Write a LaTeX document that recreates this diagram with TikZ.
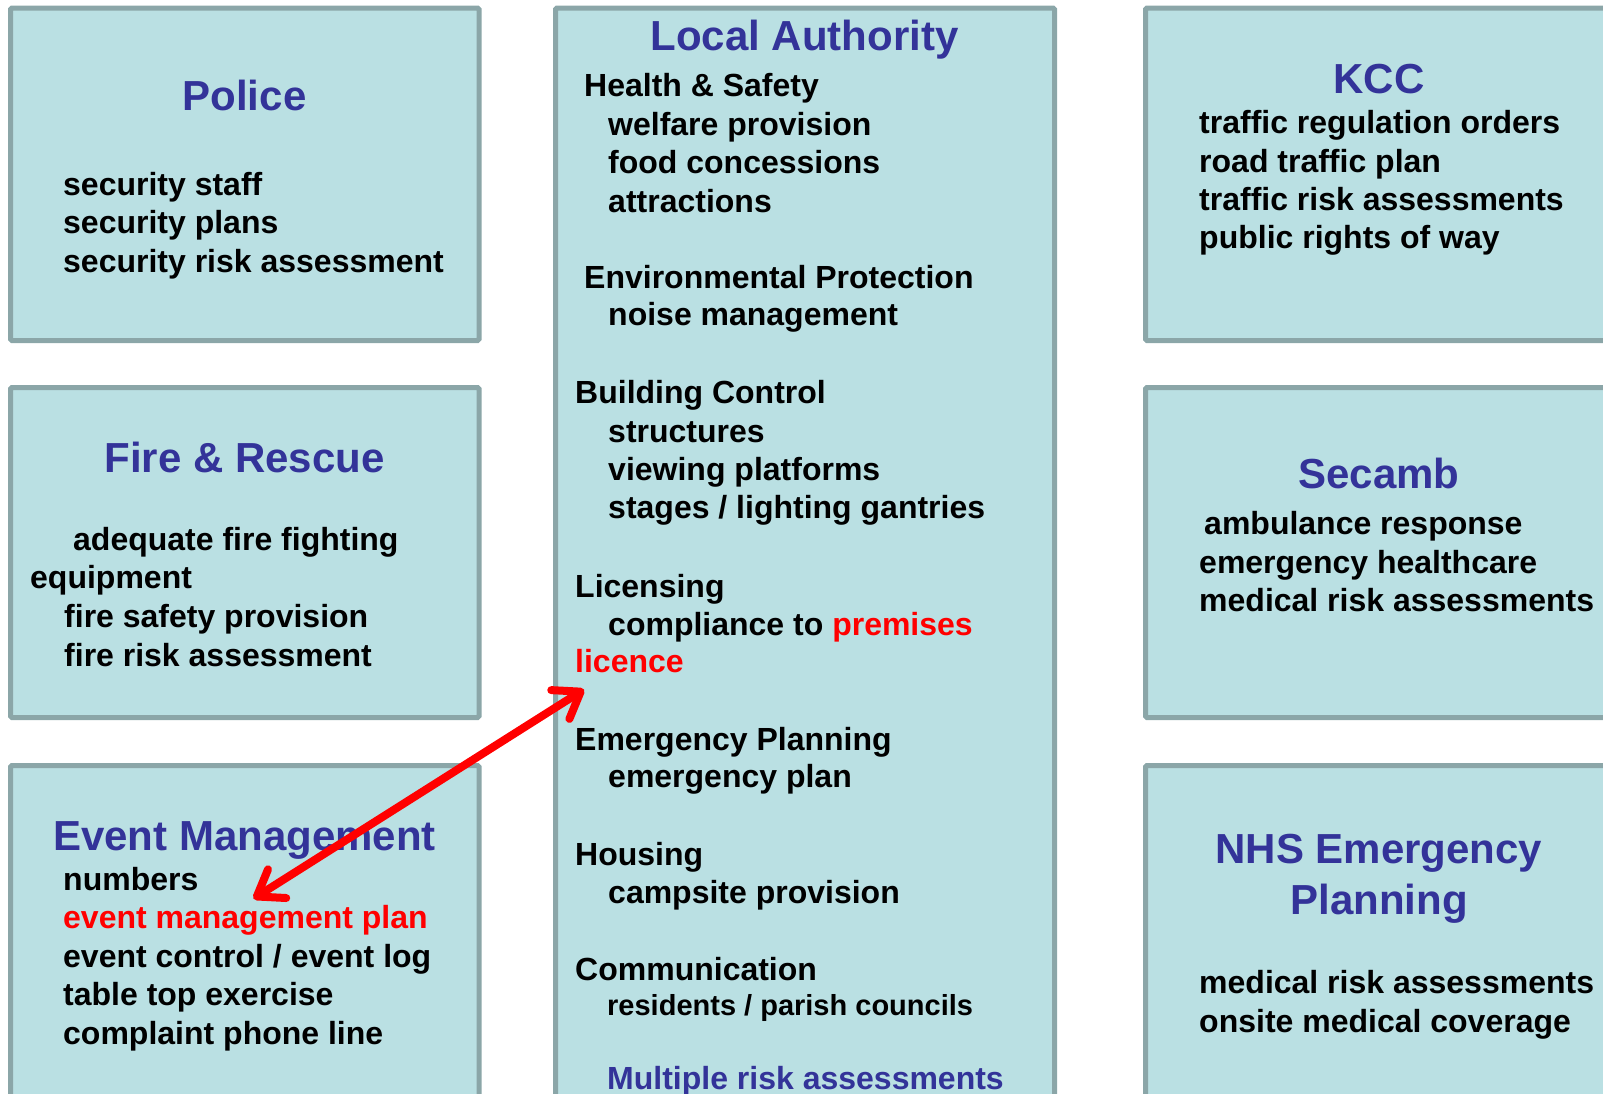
\documentclass[tikz,border=0pt]{standalone}
\usepackage{fontspec}
\setmainfont{Liberation Sans}
\usetikzlibrary{arrows.meta}

\definecolor{panelfill}{RGB}{186,224,227}
\definecolor{panelline}{RGB}{139,166,168}
\definecolor{headblue}{RGB}{51,51,153}

\begin{document}
\begin{tikzpicture}
	[x = 1pt, y = -1pt,
	panel/.style={draw=panelline, fill=panelfill, line width=5pt, rounded corners=1.5pt},
	heading/.style={anchor=base, inner sep=0pt, text=headblue, font=\fontsize{42}{50}\selectfont\bfseries},
	entry/.style={anchor=base west, inner sep=0pt, font=\fontsize{32}{38}\selectfont\bfseries},
	link/.style={draw=red, line width=8pt, line cap=round,
		{Straight Barb[round, length=24pt, width=34pt]}-{Straight Barb[round, length=24pt, width=34pt]}}]

	\useasboundingbox (0, 0) rectangle (1603, 1093);
	\clip (0, 0) rectangle (1603, 1093);

	% Draw boxes
	\draw[panel] (10.5, 8) rectangle (479, 340.5);      % police
	\draw[panel] (10.5, 387.5) rectangle (479, 717.5);  % fire
	\draw[panel] (10.5, 765.5) rectangle (479, 1120);   % event
	\draw[panel] (555.5, 8) rectangle (1054.5, 1120);   % local authority
	\draw[panel] (1145.5, 8) rectangle (1625, 340.5);   % kcc
	\draw[panel] (1145.5, 387.5) rectangle (1625, 717.5); % secamb
	\draw[panel] (1145.5, 765.5) rectangle (1625, 1120);  % nhs

	% Police
	\node[heading] (police) at (244.5, 110) {Police};
	\foreach \txt [count=\i] in {security staff, security plans, security risk assessment}
		\node[entry] (police\i) at (63, {156.5 + 38.5*\i}) {\txt};

	% Fire & Rescue
	\node[heading] (fire) at (244.5, 472) {Fire \& Rescue};
	\foreach \x/\y/\txt [count=\i] in {73/550/adequate fire fighting, 30/588/equipment,
		64/627/fire safety provision, 64/666/fire risk assessment}
		\node[entry] (fire\i) at (\x, \y) {\txt};

	% Event Management
	\node[heading] (event) at (244.5, 850) {Event Management};
	\node[entry] (numbers) at (63, 890) {numbers};
	\node[entry, text=red] (emplan) at (63, 928) {event management plan};
	\foreach \y/\txt [count=\i] in {967/{event control / event log}, 1005/table top exercise,
		1044/complaint phone line}
		\node[entry] (event\i) at (63, \y) {\txt};

	% Local Authority
	\node[heading] (la) at (804.5, 50) {Local Authority};
	\foreach \x/\y/\txt [count=\i] in {584/96/Health \& Safety, 608/135/welfare provision,
		608/173/food concessions, 608/212/attractions,
		584/288/Environmental Protection, 608/325/noise management,
		575/403/Building Control, 608/442/structures, 608/480/viewing platforms,
		608/518/{stages / lighting gantries},
		575/597/Licensing, 608/635/compliance to \textcolor{red}{premises},
		575/750/Emergency Planning, 608/787/emergency plan,
		575/865/Housing, 608/903/campsite provision,
		575/980/Communication}
		\node[entry] (la\i) at (\x, \y) {\txt};
	\node[entry, text=red] (licence) at (575, 672) {licence};
	\node[entry, font=\fontsize{29}{35}\selectfont\bfseries] (residents) at (607, 1015) {residents / parish councils};
	\node[entry, text=headblue] (multiple) at (607, 1089) {Multiple risk assessments};

	% KCC
	\node[heading] (kcc) at (1379, 93) {KCC};
	\foreach \y/\txt [count=\i] in {133/traffic regulation orders, 172/road traffic plan,
		210/traffic risk assessments, 248/public rights of way}
		\node[entry] (kcc\i) at (1199, \y) {\txt};

	% Secamb
	\node[heading] (secamb) at (1379, 488) {Secamb};
	\foreach \x/\y/\txt [count=\i] in {1204/534/ambulance response, 1199/573/emergency healthcare,
		1199/611/medical risk assessments}
		\node[entry] (secamb\i) at (\x, \y) {\txt};

	% NHS Emergency Planning
	\node[heading] (nhs) at (1379, 863) {NHS Emergency};
	\node[heading] (nhs2) at (1379, 914) {Planning};
	\foreach \y/\txt [count=\i] in {993/medical risk assessments, 1032/onsite medical coverage}
		\node[entry] (nhs\i) at (1199, \y) {\txt};

	% Draw link between plan and licence
	\draw[link] ([shift={(8,-6)}]emplan.north) -- ([shift={(9,17)}]licence.south west);

\end{tikzpicture}
\end{document}
